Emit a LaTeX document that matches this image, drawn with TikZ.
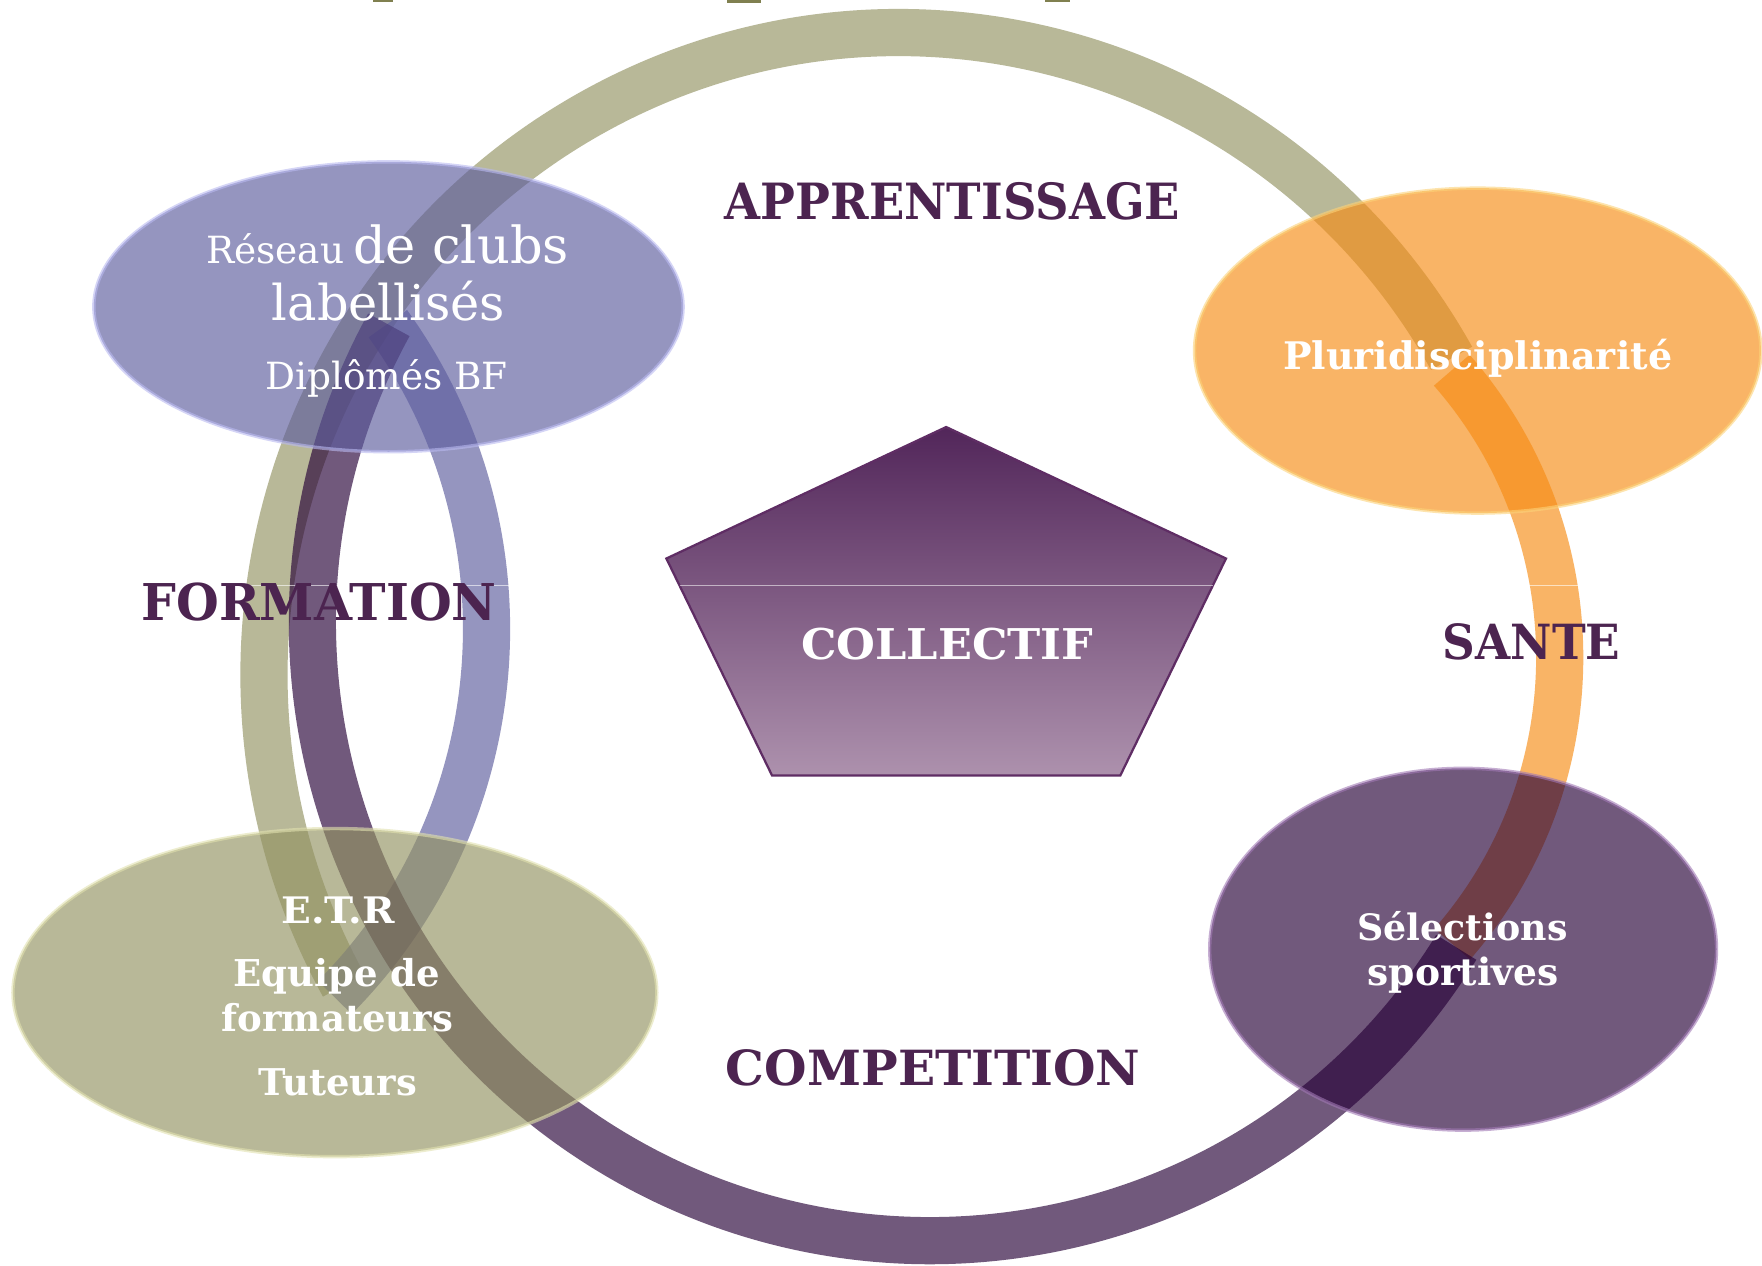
\documentclass[tikz,border=0pt]{standalone}
\usepackage{fontspec}
\setmainfont{DejaVu Serif}
\usepackage{graphicx}
\usetikzlibrary{shapes.geometric}
\newlength\pxu \setlength\pxu{0.5pt}
\newcommand{\capfit}[3]{\resizebox{#1\pxu}{#2\pxu}{\bfseries #3}}
\newcommand{\wfit}[2]{\resizebox{#1\pxu}{!}{#2}}
\definecolor{khakiT}{RGB}{146,146,97}
\definecolor{purpT}{RGB}{38,0,55}
\definecolor{blueT}{RGB}{93,93,158}
\definecolor{orangeT}{RGB}{246,140,20}
\definecolor{labelc}{RGB}{76,36,80}
\definecolor{pentTop}{RGB}{82,38,90}
\definecolor{pentBot}{RGB}{173,145,173}
\definecolor{pentEdge}{RGB}{95,45,100}
\definecolor{titleFrag}{RGB}{128,128,80}
\begin{document}
\begin{tikzpicture}[x=0.5pt,y=-0.5pt,
  band/.style={line width=21pt, draw opacity=0.65},
  blob/.style={ellipse, inner sep=0pt, fill opacity=0.65, draw opacity=0.6, line width=1.5pt},
  lab/.style={anchor=base, inner sep=0pt, text=labelc},
  wlab/.style={anchor=base, inner sep=0pt, text=white},
  hair/.style={draw=white, draw opacity=0.6, line width=0.5pt}
]
\useasboundingbox (0,0) rectangle (1568,1126.6);
\fill[white] (0,0) rectangle (1568,1126.6);
% fragments of a cut-off title
\fill[titleFrag] (332,0) rectangle (350,2);
\fill[titleFrag] (647,0) rectangle (677,2.5);
\fill[titleFrag] (930,0) rectangle (952,2);
% arcs
\draw[band, khakiT] (800,600) ++(151:565 and 571) arc[start angle=151, end angle=330.5, x radius=565, y radius=571];
\draw[band, orangeT] (1000,585) ++(-41.2:388) arc[start angle=-41.2, end angle=41.1, radius=388];
\draw[band, blueT] (-32,560) ++(-35.8:465) arc[start angle=-35.8, end angle=44.8, radius=465];
\draw[band, purpT] (828,554) ++(31.7:550) arc[start angle=31.7, end angle=208.8, radius=550];
\draw[hair] (212,521) -- (458,521);
\draw[hair] (1358,521) -- (1407,521);
% nodes
\node[blob, fill=blueT, draw={rgb,255:red,185;green,185;blue,240}, minimum width=262.2pt, minimum height=129pt] (reseau) at (345.7,273) {};
\node[blob, fill=orangeT, draw={rgb,255:red,252;green,210;blue,120}, minimum width=252pt, minimum height=144.6pt] (pluri) at (1315,312) {};
\node[blob, fill=purpT, draw={rgb,255:red,160;green,120;blue,180}, minimum width=225.5pt, minimum height=161pt] (selec) at (1302,844.7) {};
\node[blob, fill=khakiT, draw={rgb,255:red,225;green,225;blue,175}, minimum width=286.5pt, minimum height=146pt] (etr) at (298,883.3) {};
% pentagon
\path[draw=pentEdge, line width=1pt, top color=pentTop, bottom color=pentBot]
  (842,380) coordinate (p1) -- (1091,497) coordinate (p2) -- (997,690) coordinate (p3)
  -- (687,690) coordinate (p4) -- (593,497) coordinate (p5) -- cycle;
\draw[hair, draw opacity=0.55] (605,521) -- (1079,521);
% labels
\node[lab] (appr) at (847.5,195) {\capfit{405}{33}{APPRENTISSAGE}};
\node[lab] (form) at (284,552.5) {\capfit{316}{33.5}{FORMATION}};
\node[lab] (sante) at (1363,587) {\capfit{158}{32}{SANTE}};
\node[lab] (comp) at (830.5,966) {\capfit{369}{32}{COMPETITION}};
\node[wlab] (coll) at (843,587) {\capfit{260}{28}{COLLECTIF}};
\node[wlab] (plur) at (1315,328.7) {\wfit{346}{\bfseries Pluridisciplinarité}};
\node[wlab] (sel1) at (1301.5,836.6) {\wfit{187}{\bfseries Sélections}};
\node[wlab] (sel2) at (1302,876.7) {\wfit{170}{\bfseries sportives}};
\node[wlab] (etr1) at (301,821.7) {\capfit{101}{23.7}{E.T.R}};
\node[wlab] (etr2) at (299.6,878) {\wfit{184}{\bfseries Equipe de}};
\node[wlab] (etr3) at (300.3,918) {\wfit{206}{\bfseries formateurs}};
\node[wlab] (etr4) at (300.4,974.6) {\wfit{141}{\bfseries Tuteurs}};
\node[wlab, anchor=base west] (res1) at (183,234.4) {\wfit{123}{Réseau}};
\node[wlab, anchor=base west] (res2) at (314,234.4) {\wfit{192}{de clubs}};
\node[wlab] (res3) at (345.7,284.8) {\wfit{207.5}{labellisés}};
\node[wlab] (res4) at (344,346.5) {\wfit{216}{Diplômés BF}};
\end{tikzpicture}
\end{document}
